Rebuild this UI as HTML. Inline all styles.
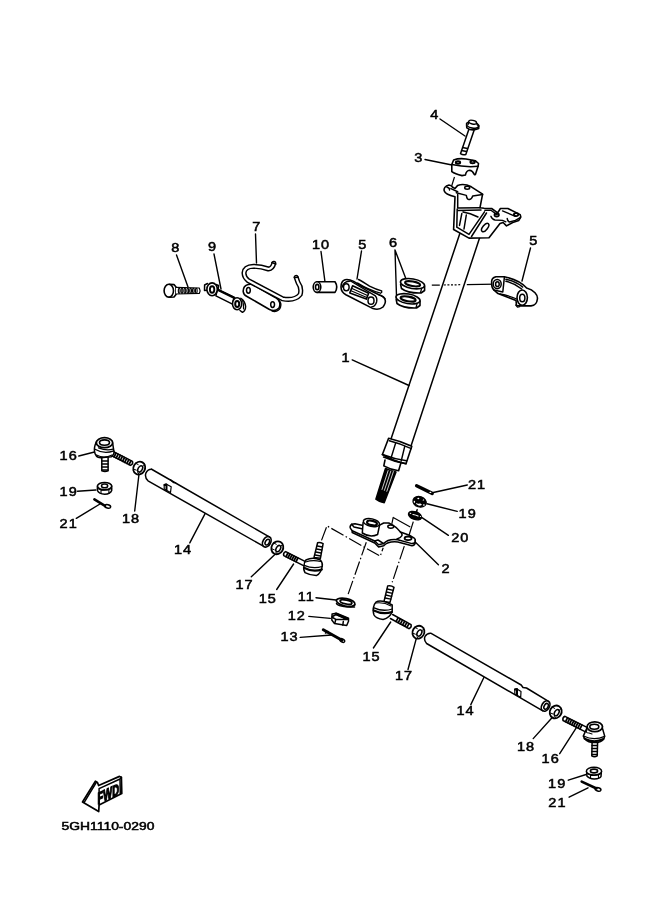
<!DOCTYPE html>
<html><head><meta charset="utf-8">
<style>
html,body{margin:0;padding:0;background:#fff;}
body{width:661px;height:913px;overflow:hidden;}
svg{display:block;will-change:transform;}
text{font-family:"Liberation Sans",sans-serif;}
</style></head>
<body>
<svg width="661" height="913" viewBox="0 0 661 913">
<rect width="661" height="913" fill="#fff"/>
<g fill="none" stroke="#000" stroke-width="1.5" stroke-linejoin="round" stroke-linecap="round">

<!-- LEADERS -->
<g id="leaders" stroke-width="1.4">
<path d="M440,119 L465,136"/>
<path d="M425,159.5 L452,165"/>
<path d="M255.5,234 L256.5,263"/>
<path d="M176.5,255 L188,287"/>
<path d="M214,254 L221,289"/>
<path d="M321,251.5 L325,282"/>
<path d="M361.5,251 L357,279"/>
<path d="M395,250 L406,279 M395,250 L396.6,299"/>
<path d="M530.5,248 L522,281"/>
<path d="M352.2,359.9 L409,385.5"/>
<path d="M78.8,456 L94.5,452"/>
<path d="M77.5,491.2 L95.8,490"/>
<path d="M76.3,518.3 L100,504"/>
<path d="M134.7,511 L139,474"/>
<path d="M189.8,542.9 L205.6,512.6"/>
<path d="M251.3,576.8 L274.6,554.7"/>
<path d="M276.7,589.5 L293.6,564"/>
<path d="M433.3,492.5 L467.3,485"/>
<path d="M427,503.8 L457.2,511.4"/>
<path d="M422,517.7 L448.4,535.3"/>
<path d="M415.2,541.9 L438.4,564.7"/>
<path d="M316,597.7 L336,600"/>
<path d="M308.8,616.4 L330.3,618.4"/>
<path d="M300.2,637.4 L331.8,635"/>
<path d="M373.4,648 L390.7,622"/>
<path d="M408,669.5 L416.6,637.4"/>
<path d="M470.8,704.6 L484,677.3"/>
<path d="M533.2,738.6 L552,717.8"/>
<path d="M559.7,753.7 L576.7,727.2"/>
<path d="M568.3,780.2 L586.1,774.5"/>
<path d="M569.1,797.2 L588,787.8"/>
</g>

<!-- dash-dot lines -->
<g stroke-width="1.2" stroke-dasharray="14,2.5,1.5,2.5" stroke-linecap="butt">
<path d="M431.8,285.2 L496,284.1" stroke-dasharray="8,4,2,1.6,2,1.6,2,1.6,2,1.6,2,6.6,40"/>
<path d="M454.5,177 L450.7,189" stroke-dasharray="none"/>
<path d="M366.3,542.2 L348.1,594.3"/>
<path d="M404.3,546.1 L392.2,582.3"/>
<path d="M321.5,540.4 L327,525.9 L380.2,556.2 L383.2,547.7"/>
<path d="M417,510.5 L415.6,514" stroke-dasharray="none"/>
<path d="M413.3,521.6 L408.7,536.3" stroke-dasharray="none"/>
<path d="M391.3,526.5 L393.2,517.4 L410.3,526.9" stroke-dasharray="none"/>
</g>
<!-- COLUMN -->
<path d="M460,233 L391,439"/>
<path d="M481.2,233 L411,446"/>
<!-- collar -->
<path d="M385,460 L383.8,465.9 Q391,470 398.6,470.7 L400.8,463.3" fill="#fff" stroke-width="1.6"/>
<path d="M388.6,438.3 Q400,441 411.8,446.2 L406,463.7 Q394,461.5 382.4,454.5 Z" fill="#fff" stroke-width="1.6"/>
<path d="M389.3,440.8 Q400,443.5 411.3,448.6" stroke-width="1.4"/>
<path d="M395.5,443.5 L390.9,458.5 M404.7,446.5 L401.2,461" stroke-width="1.4"/>
<path d="M382.4,454.5 Q394,459 406.5,460.8 M383.6,457 Q395,462 406,463.7" stroke-width="1.6"/>
<!-- spline -->
<path d="M385.5,468.5 L375.9,499.2 Q380,502.5 384.2,502.7 L396,472 Q391,471 385.5,468.5 Z" fill="#000" stroke-width="1.5"/>
<path d="M388.1,470.6 L382,489.5 M390.8,471.1 L384.4,490.4 M393.4,471.6 L386.8,491.3" stroke="#fff" stroke-width="0.8"/>
<!-- TOP BRACKET -->
<path d="M449,185 C445,185.5 443.5,189 444.3,191 C445,193.5 448,195 455,196.8 L453.6,229.5 L469,238.1 L489,237.7 L500,223.5 L503.1,222.5 L506.5,225.9 L512.7,222.5 L518.8,220.4 L520.8,217 L520.2,214.6 L507.9,208.5 L500.4,208.5 L497.7,212.9 L491.6,208.5 L484.1,208.2 L480,207.7 L482.6,194.1 L471.3,186.8 Q464,183 457.7,185.4 L455,188.5 L452.7,187.3 Q451,185 449,185 Z" fill="#fff" stroke-width="1.6"/>
<path d="M446.8,187 Q450,188 449.5,190" stroke-width="1.4"/>
<path d="M450.9,188.6 L457.7,191.8"/>
<path d="M456.3,192.7 L466.3,195.4 Q467,200 469.5,199.5 Q472,199 472.7,195.9 L482.6,194.5"/>
<path d="M457.7,194.5 L457.7,208.1 L480,207.7"/>
<path d="M457.2,209 L456.8,227.2 L469,234.4 L484.5,211.8"/>
<path d="M471.5,236.5 L486.5,213"/>
<path d="M458,210.5 L481,210 M461.8,213.6 L459.5,225.4 M466.3,215 L464,229 M463,212 Q470,213 478,217"/>
<ellipse cx="467.2" cy="187.7" rx="2.5" ry="1.5"/>
<ellipse cx="485.2" cy="227.5" rx="5" ry="2.4" transform="rotate(-52 485.2 227.5)"/>
<path d="M484.8,210.2 L490.9,210.2 L497,214.6 M490.9,216.3 Q492,219.5 495,220 L502.5,220.4 L505.9,221.8" stroke-width="1.4"/>
<path d="M502.5,210.9 L515.4,216.3 M507.2,218.4 Q507.5,221.5 509.5,222 L515.4,220.4 L520.2,217.7" stroke-width="1.4"/>
<ellipse cx="496.7" cy="215" rx="2.2" ry="1.5" stroke-width="1.8"/>
<ellipse cx="516.1" cy="214.6" rx="2.2" ry="1.5" stroke-width="1.8"/>

<!-- BOLT 4 -->
<path d="M468.8,129.5 L460.5,153.7 Q463,155.5 465.8,154.5 L474.1,130.3" fill="#fff" stroke-width="1.5"/>
<path d="M461.5,150.5 L466.5,151.5 M462.5,147.5 L467.5,148.5" stroke-width="1.3"/>
<path d="M466.6,125 L466.8,127.8 Q472,131.5 478.7,128.5 L478.7,125.5" fill="#fff" stroke-width="1.6"/>
<ellipse cx="472.6" cy="125" rx="6.2" ry="3" transform="rotate(12 472.6 125)" fill="#fff" stroke-width="1.6"/>
<path d="M468,124.5 L469,121.5 L476,122.3 L477.5,125.2" fill="#fff" stroke-width="1.4"/>
<ellipse cx="472.6" cy="122.2" rx="4" ry="1.8" transform="rotate(12 472.6 122.2)" fill="#fff" stroke-width="1.4"/>

<!-- CAP 3 -->
<path d="M453.6,160 Q459,158 466,159 L475.5,160.8 L478.5,163.5 L478.1,166.3 L475.4,174.4 Q474.1,175 474.1,174.1 Q472.5,170.5 469.5,170.3 Q466.5,170.5 465.4,175 L462,175.6 Q455,174 451.8,171.7 L451.8,164.5 Z" fill="#fff" stroke-width="1.6"/>
<path d="M451.8,164.5 Q465,167.5 478.1,166.3" stroke-width="1.5"/>
<ellipse cx="458" cy="162.5" rx="2.2" ry="1.3" stroke-width="1.9"/>
<ellipse cx="472.6" cy="161.9" rx="2.2" ry="1.3" stroke-width="1.9"/>

<!-- WASHERS 6 -->
<path d="M400.6,284.5 L401.5,288.5 Q408,293.5 421,293 L424.6,290.5 L424.6,286" fill="#fff" stroke-width="1.6"/>
<ellipse cx="412.5" cy="283.7" rx="12.2" ry="4.8" transform="rotate(10 412.5 283.7)" fill="#fff" stroke-width="1.6"/>
<ellipse cx="412.6" cy="283.8" rx="7.6" ry="2.3" transform="rotate(10 412.6 283.8)" stroke-width="2.1"/>
<path d="M420.5,292.5 L421.5,289" stroke-width="1.2"/>
<path d="M396.2,299.5 L397,303.5 Q403.5,308.5 416.5,308 L420,305.5 L420,301" fill="#fff" stroke-width="1.6"/>
<ellipse cx="408" cy="298.8" rx="12.2" ry="4.8" transform="rotate(10 408 298.8)" fill="#fff" stroke-width="1.6"/>
<ellipse cx="408.1" cy="298.9" rx="7.6" ry="2.3" transform="rotate(10 408.1 298.9)" stroke-width="2.1"/>
<path d="M416,307.5 L417,304" stroke-width="1.2"/>

<!-- CLAMP 5 mid -->
<path d="M345.1,279.7 Q341,281 341,287 Q341,292 345.9,294.8 L373,308.6 Q379,310.5 383,307 Q386,303 385.2,300 Q384.5,296.5 378.9,294.8 L361.6,286.2 L353.7,281.4 Q349,279 345.1,279.7 Z" fill="#fff" stroke-width="1.6"/>
<path d="M342.3,287 Q343,281.5 350.6,281 L375,295.6 Q377.5,298 376.6,302 Q375,307 371.8,306.6" stroke-width="1.4"/>
<path d="M358.5,279.5 Q362,281 369.5,286.2 Q376,289.5 381.7,290.9 L381.6,292.5 M357.7,283 Q368,289.5 380.5,293.2" stroke-width="1.4"/>
<path d="M378.9,294.8 Q384.5,297 385.2,299" stroke-width="1.3"/>
<ellipse cx="346.3" cy="287.3" rx="2.8" ry="3.5" stroke-width="1.5"/>
<ellipse cx="371" cy="300.7" rx="3" ry="3.6" stroke-width="1.5"/>
<path d="M352.6,285.8 L368.7,293.2 L366.3,299.1 L349.8,292.9 Z" fill="#fff" stroke-width="1.6"/>
<path d="M352,288.5 L367.5,295.5 M351,290.8 L366.8,297.5" stroke-width="1.2"/>

<!-- BUSHING 10 -->
<path d="M317,281.8 L335,281.8 Q338.5,287 335,292.4 L317,292.4" fill="#fff" stroke-width="1.6"/>
<ellipse cx="317" cy="287.1" rx="3.8" ry="5.3" fill="#fff" stroke-width="1.6"/>
<ellipse cx="317.2" cy="287.1" rx="1.7" ry="2.7" stroke-width="1.6"/>

<!-- CLAMP 5 right -->
<path d="M495.9,276.7 Q491,278 491.7,283 Q491.5,288 493.8,289.9 L498,293.6 L516,300.5 L516.5,305.5 L520.7,305.9 L531,305.9 C535,305.5 537,303 537.4,299 C538,295 534,290 526.6,288.1 Q520,280 504.4,276.7 Z" fill="#fff" stroke-width="1.6"/>
<ellipse cx="497.2" cy="284.1" rx="4" ry="4.6" stroke-width="1.5"/>
<ellipse cx="497.4" cy="284.2" rx="1.8" ry="2.4" stroke-width="1.5"/>
<path d="M504.4,277.2 L502.8,292 L493.8,289.9" stroke-width="1.5"/>
<path d="M505.9,279.3 Q516,281.5 522.7,287.1 M505.9,281.2 Q515,283.5 521.7,289" stroke-width="1.4"/>
<path d="M500,294 Q509,295.5 516.7,299" stroke-width="1.3"/>
<ellipse cx="522.2" cy="297.6" rx="5.2" ry="7.6" fill="#fff" stroke-width="1.6"/>
<ellipse cx="522.3" cy="298" rx="2.6" ry="3.8" stroke-width="1.5"/>
<path d="M515.8,305 L517.5,307.2 L519.7,306.6" stroke-width="1.3"/>

<!-- BOLT 8 -->
<path d="M169.5,284.2 L174,284.6 L176,287 L176,294.5 L174,297 L169.5,297.2" fill="#fff" stroke-width="1.6"/>
<ellipse cx="168.8" cy="290.7" rx="4.7" ry="6.4" fill="#fff" stroke-width="1.6"/>
<path d="M176,287.3 L199.3,288 Q200.8,290.7 199.3,293.4 L176,294" fill="#fff" stroke-width="1.2"/>
<ellipse cx="179.2" cy="290.7" rx="0.85" ry="2.5" stroke-width="1.15"/> <ellipse cx="182.0" cy="290.7" rx="0.85" ry="2.5" stroke-width="1.15"/> <ellipse cx="184.9" cy="290.7" rx="0.85" ry="2.5" stroke-width="1.15"/> <ellipse cx="187.8" cy="290.7" rx="0.85" ry="2.5" stroke-width="1.15"/> <ellipse cx="190.6" cy="290.7" rx="0.85" ry="2.5" stroke-width="1.15"/> <ellipse cx="193.4" cy="290.7" rx="0.85" ry="2.5" stroke-width="1.15"/> <ellipse cx="196.3" cy="290.7" rx="0.85" ry="2.5" stroke-width="1.15"/>


<!-- PART 9 -->
<path d="M217.4,289.3 L234,297.3 L232.5,304.1 L215.9,295.8 Z" fill="#fff" stroke-width="1.5"/>
<path d="M217.6,289.8 L234.5,298" stroke-width="2.3"/>
<path d="M207.5,283.5 L204.6,285 L204.5,290.5 L206.8,290.2 M216,284.5 L218.5,285.5 L218.3,288.8" fill="#fff" stroke-width="1.5"/>
<ellipse cx="212.1" cy="289.3" rx="5.2" ry="6.4" fill="#fff" stroke-width="1.6"/>
<ellipse cx="212.1" cy="289.5" rx="2.2" ry="3.3" stroke-width="1.9"/>
<path d="M240.8,298.4 Q245,301 245.6,306.5 Q245.5,311 242.5,312.3 L240,310.5" fill="#fff" stroke-width="1.5"/>
<path d="M242.5,300.5 Q244,304 243.5,309" stroke-width="1.1"/>
<ellipse cx="237.1" cy="303.7" rx="4.6" ry="6" fill="#fff" stroke-width="1.6"/>
<ellipse cx="237.2" cy="303.9" rx="2" ry="3" stroke-width="2"/>

<!-- PART 7 -->
<path d="M248.2,284.6 Q243,286 243.2,291.5 Q243.5,295 247,296.5 L269.5,309.5 Q275,312 279,308 Q281,304 278.5,300 Q276.5,298 274,296.8 L252.5,284.5 Q250.5,284 248.2,284.6 Z" fill="#fff" stroke-width="1.6"/>
<path d="M278.5,300 Q282,303 280.4,307.5 Q279,311 274.5,311.5 L272,311" stroke-width="1.4"/>
<ellipse cx="248.4" cy="290.3" rx="1.9" ry="2.9" stroke-width="1.5"/>
<ellipse cx="272.6" cy="304.6" rx="1.9" ry="2.9" stroke-width="1.5"/>
<path d="M273.8,263.3 Q272.5,268.5 268.5,269 Q261,266.3 253.5,266.3 Q244.5,266.5 244,273 Q244.2,277.5 248,280.5 L282.5,298.8 Q295,301 300.2,294.5 Q302,288 298,282.5 L296.2,277.3" stroke-width="5.1"/>
<path d="M273.8,263.3 Q272.5,268.5 268.5,269 Q261,266.3 253.5,266.3 Q244.5,266.5 244,273 Q244.2,277.5 248,280.5 L282.5,298.8 Q295,301 300.2,294.5 Q302,288 298,282.5 L296.2,277.3" stroke-width="2.2" stroke="#fff"/>
<path d="M271.8,262.5 L275.8,264.2 M294.3,277.5 L298.3,277.3" stroke-width="1.4"/>

<!-- PITMAN ARM 2 -->
<path d="M351.6,524.3 Q349.5,526 350.3,528.1 L352.2,530.7 L374.7,541 L378.6,544.8 L383.7,543.6 Q388,538.5 397.8,539.7 L412,543.6 Q416,543 415.2,540 Q415,538.5 414.6,538.4 L409.4,535.2 L400.4,532 Q397,528 395.3,526.9 L388.8,523 L383.7,523 L378.6,525.6 L363.1,525.6 L355,523.8 Z" fill="#fff"/>
<path d="M352.2,530.7 L352.2,532.5 L374.7,543 L378.6,547 L383.7,545.8 Q388,541 397.8,542 L412,545.8 Q416,545 415.2,540"/>
<path d="M351.6,524.3 L354,527 L363,529 M374.7,541 L378,540 L383.7,543.6"/>
<path d="M363.1,522.5 L362.3,533 Q370,538 377.6,534.5 L379.6,525" fill="#fff"/>
<ellipse cx="371.4" cy="522.6" rx="8.2" ry="3.8" transform="rotate(12 371.4 522.6)" fill="#fff"/>
<ellipse cx="372" cy="523" rx="5" ry="2.2" transform="rotate(12 372 523)" stroke-width="2.2"/>
<ellipse cx="390.8" cy="526.6" rx="3" ry="1.6"/>
<ellipse cx="408.1" cy="538.3" rx="3.5" ry="1.8" stroke-width="1.8"/>
<path d="M400.4,532 Q405,536 397,539"/>

<!-- 21R 19R 20 -->
<path d="M416.6,485.8 L432.2,493.4" stroke-width="3.4"/>
<ellipse cx="430.4" cy="492.4" rx="1" ry="0.6" fill="#fff" stroke="none"/>
<ellipse cx="419.6" cy="501.8" rx="6.8" ry="5.2" transform="rotate(18 419.6 501.8)" fill="#000" stroke-width="1.2"/>
<ellipse cx="418.3" cy="498.5" rx="1" ry="0.8" fill="#fff" stroke="none"/>
<path d="M422.5,500.6 L424.2,500.4 L423.5,499 Z" fill="#fff" stroke="none"/>
<ellipse cx="414.4" cy="501.8" rx="0.7" ry="1.1" fill="#fff" stroke="none"/>
<path d="M416.5,503.8 Q419,506.5 421.5,504.8 L420.5,503.8 Q418.5,504.3 416.5,503.8 Z" fill="#fff" stroke="#fff" stroke-width="0.6"/>
<ellipse cx="423.9" cy="505" rx="1" ry="0.7" fill="#fff" stroke="none"/>
<path d="M417.2,509.5 L415.8,514" stroke-width="1.3"/>
<ellipse cx="415" cy="515.6" rx="6.8" ry="3.8" transform="rotate(20 415 515.6)" fill="#000" stroke-width="1.4"/>
<path d="M413,514.5 Q416,515 418,516" stroke="#fff" stroke-width="1.2"/>
<ellipse cx="410.5" cy="513.3" rx="0.8" ry="0.6" fill="#fff" stroke="none"/>
<ellipse cx="420.5" cy="516.5" rx="0.7" ry="0.6" fill="#fff" stroke="none"/>
<!-- 11 12 13 -->
<ellipse cx="345.7" cy="602.3" rx="9.5" ry="3.8" transform="rotate(12 345.7 602.3)" fill="#fff" stroke-width="1.8"/>
<ellipse cx="346" cy="602" rx="6" ry="2" transform="rotate(12 346 602)" stroke-width="1.8"/>
<path d="M336.5,603.5 Q338,607 354.5,607"/>
<path d="M332.1,613.9 L336.4,613.3 L348.5,618.2 L348.5,621.2 L346.7,625.5 L334.5,623.6 L331.8,620 Z" fill="#fff"/>
<path d="M332.5,616.5 L336,614.5 L347.5,619.5 M331.8,617 L335.8,619.4 L347.5,619.6 M335.8,619.4 L334.8,623.3 M343.3,621.5 L342.8,625.2" />
<path d="M336,613.8 L347.5,618.8" stroke-width="2.4"/>
<path d="M323.3,629.7 L342,640.2" stroke-width="3"/>
<ellipse cx="342.3" cy="640.5" rx="2.6" ry="1.5" transform="rotate(28 342.3 640.5)" stroke-width="1.4"/>
<path d="M325.5,633 L328,631.5" stroke-width="1.5"/>

<!-- TRE 16 L -->

<path d="M111.5,455.7 L130.5,465.4 Q133.3,464.3 132.5,461.4 L113.5,451.7" fill="#fff"/>
<path d="M116.0,453.2 L114.1,456.9 M118.1,454.3 L116.2,458.0 M120.3,455.3 L118.4,459.1 M122.4,456.4 L120.5,460.2 M124.5,457.5 L122.6,461.3 M126.6,458.6 L124.7,462.4 M128.8,459.7 L126.9,463.4 M130.9,460.8 L129.0,464.5" stroke-width="1.75"/>
<path d="M101.8,457.5 L101.8,470.8 Q105,472 108.1,470.8 L108.1,457.5" fill="#fff"/>
<path d="M102,461 L108,461 M102,464 L108,464 M102,467 L108,467 M102,470 L108,470" stroke-width="1.3"/>
<path d="M96.3,441.8 C95,445 94,449 94.5,451.3 C95,455 97,457.5 100.5,457.8 L111.3,456.8 C113,455.5 114.5,453.5 114,451.8 L112.7,443.6" fill="#fff"/>
<path d="M95,449.2 Q104,454.5 113.8,450.8 M98.6,447.8 Q106,451 113,449.2" stroke-width="1.3"/>
<path d="M96.5,455 Q104,459 112,455" stroke-width="1.2"/>
<ellipse cx="104.5" cy="442.7" rx="8.2" ry="5" fill="#fff" stroke-width="1.8"/>
<ellipse cx="104.5" cy="442.6" rx="5" ry="2.7" stroke-width="1.6"/>

<!-- 19L 21L 18L -->
<path d="M97.4,486.1 L97.4,490.5 Q99,494 104.7,494.3 Q110.5,494 111.7,490.5 L111.7,486.1" fill="#fff"/>
<ellipse cx="104.6" cy="486.1" rx="7.1" ry="3.7" fill="#fff"/>
<ellipse cx="104.6" cy="485.9" rx="3.1" ry="1.8"/>
<path d="M101,489.5 L101,493.5 M108.9,489.5 L108.9,493.5 M97.5,488.5 Q104,492 111.6,488.5" stroke-width="1.1"/>
<path d="M94.4,499.4 L105,505.8" stroke-width="2.6"/>
<ellipse cx="107.7" cy="506.4" rx="3" ry="1.7" transform="rotate(15 107.7 506.4)" stroke-width="1.5"/>

<ellipse cx="139.2" cy="468.1" rx="5.8" ry="6.6" transform="rotate(30 139.2 468.1)" fill="#fff" stroke-width="1.8"/>
<ellipse cx="140.2" cy="468.9" rx="2.1" ry="3.4" transform="rotate(30 140.2 468.9)" stroke-width="1.5"/>
<path d="M135.7,463.3 L138.2,464.6 M133.7,469.1 L136.2,470.1 M137.7,472.6 L139.2,474.1 M143.2,466.1 L144.7,464.6" stroke-width="1"/>
<!-- LEFT TUBE -->
<path d="M151.2,469 L269.3,536.9 L262.9,545.9 L148,480.8 Q144.3,477 146,472.8 Q148,469 151.5,469.2 Z" fill="#fff"/>
<path d="M170.5,479.7 L173.5,482.5 L175.5,482.6" stroke-width="1.4"/>
<path d="M164.2,484.5 L164.2,489 L170.5,492.5 L171.2,486.8 L166,484 Z" fill="#fff" stroke-width="1.2"/>
<path d="M164.5,485 L166.5,484.5 L166.5,489.8" stroke-width="2"/>
<ellipse cx="266.8" cy="541.8" rx="3.8" ry="5.6" transform="rotate(30 266.8 541.8)" fill="#fff" stroke-width="1.7"/>
<ellipse cx="267.3" cy="542.1" rx="1.9" ry="3.1" transform="rotate(30 267.3 542.1)" stroke-width="1.5"/>

<ellipse cx="277.3" cy="547.8" rx="5.8" ry="6.6" transform="rotate(30 277.3 547.8)" fill="#fff" stroke-width="1.8"/>
<ellipse cx="278.3" cy="548.6" rx="2.1" ry="3.4" transform="rotate(30 278.3 548.6)" stroke-width="1.5"/>
<path d="M273.8,543.0 L276.3,544.3 M271.8,548.8 L274.3,549.8 M275.8,552.3 L277.3,553.8 M281.3,545.8 L282.8,544.3" stroke-width="1"/>
<!-- TRE 15 L -->
<path d="M305.5,561.6 L285.7,551.6 Q282.9,552.7 283.7,555.6 L303.5,565.6" fill="#fff"/>
<path d="M287.9,553.0 L286.1,556.6 M289.9,554.0 L288.1,557.6 M291.9,555.0 L290.1,558.6 M293.9,556.0 L292.1,559.6 M295.9,557.0 L294.1,560.6 M297.9,558.0 L296.1,561.6" stroke-width="1.75"/>
<path d="M317.6,542.7 L314,557.4 L320.4,558.3 L323.1,543.6 Q320,542 317.6,542.7 Z" fill="#fff"/>
<path d="M317.3,546 L322.5,547 M316.6,549 L321.8,550 M315.8,552 L321,553 M315.2,555 L320.5,556" stroke-width="1.3"/>
<path d="M305.9,560 Q313,556.5 320.4,560 Q323,563 322.2,566.3 Q321,573 316.7,575.4 Q310,575.5 305,572.7 Q303,569 304,566.3 Q304,562 305.9,560 Z" fill="#fff"/>
<path d="M305.5,562 Q313,559.5 320.5,561.5" stroke-width="1.1"/>
<path d="M304.2,565.3 Q313,569.3 322.2,566.5" stroke-width="1.3"/>
<path d="M304.5,568 Q313,572.5 321.8,569.5" stroke-width="2.2"/>

<!-- TRE 15 R -->
<path d="M390.4,618.5 L408.9,628.7 Q411.8,627.7 411.1,624.7 L392.6,614.5" fill="#fff"/>
<path d="M398.1,617.8 L396.1,621.4 M400.3,619.0 L398.2,622.6 M402.4,620.2 L400.4,623.8 M404.6,621.4 L402.6,625.0 M406.8,622.6 L404.7,626.2 M408.9,623.8 L406.9,627.4" stroke-width="1.75"/>
<path d="M387.7,585.9 L384,601.5 L390,602.4 L394,587.3 Q391,585 387.7,585.9 Z" fill="#fff"/>
<path d="M387.3,589 L393.2,590.3 M386.6,592 L392.4,593.3 M385.8,595 L391.6,596.3 M385.1,598 L390.8,599.2" stroke-width="1.3"/>
<path d="M375.9,602.2 Q381,599 392.2,605 L392.2,611.3 Q390,618 383.1,619.5 Q376,618.5 374,615 Q372.5,610 373.6,607 Q374,604 375.9,602.2 Z" fill="#fff"/>
<path d="M374,607.8 Q383,612 392.2,609" stroke-width="1.3"/>
<path d="M373.8,610.5 Q383,615 392,612" stroke-width="2.2"/>
<path d="M376,603 Q384,602 391,606" stroke-width="1.1"/>

<ellipse cx="418.4" cy="632.2" rx="5.8" ry="6.6" transform="rotate(30 418.4 632.2)" fill="#fff" stroke-width="1.8"/>
<ellipse cx="419.4" cy="633.0" rx="2.1" ry="3.4" transform="rotate(30 419.4 633.0)" stroke-width="1.5"/>
<path d="M414.9,627.4 L417.4,628.7 M412.9,633.2 L415.4,634.2 M416.9,636.7 L418.4,638.2 M422.4,630.2 L423.9,628.7" stroke-width="1"/>
<!-- RIGHT TUBE -->
<path d="M430.7,633.2 L521.2,685 L523,687.5 L526.5,688 L547.7,700.9 L542.4,710.7 L426.6,643.5 Q423.5,640 425,636.5 Q427,633 430.7,633.2 Z" fill="#fff"/>
<path d="M514.8,689.2 L514.8,694 L520.7,697.3 L521,691.5 L517,689 Z" fill="#fff" stroke-width="1.2"/>
<path d="M515,689.5 L517,689 L517,695" stroke-width="2"/>
<ellipse cx="545.6" cy="706" rx="3.8" ry="5.6" transform="rotate(30 545.6 706)" fill="#fff" stroke-width="1.7"/>
<ellipse cx="546.1" cy="706.3" rx="1.9" ry="3.1" transform="rotate(30 546.1 706.3)" stroke-width="1.5"/>

<ellipse cx="555.7" cy="711.9" rx="5.8" ry="6.6" transform="rotate(30 555.7 711.9)" fill="#fff" stroke-width="1.8"/>
<ellipse cx="556.7" cy="712.7" rx="2.1" ry="3.4" transform="rotate(30 556.7 712.7)" stroke-width="1.5"/>
<path d="M552.2,707.1 L554.7,708.4 M550.2,712.9 L552.7,713.9 M554.2,716.4 L555.7,717.9 M559.7,709.9 L561.2,708.4" stroke-width="1"/>
<!-- TRE 16 R -->
<path d="M587.0,727.4 L565.0,716.3 Q562.2,717.5 563.0,720.5 L585.0,731.6" fill="#fff"/>
<path d="M567.5,717.8 L565.6,721.6 M569.5,718.9 L567.7,722.6 M571.6,719.9 L569.7,723.7 M573.7,721.0 L571.8,724.7 M575.7,722.0 L573.8,725.7 M577.8,723.0 L575.9,726.8 M579.8,724.1 L578.0,727.8 M581.9,725.1 L580.0,728.9" stroke-width="1.75"/>
<path d="M592.1,742.2 L591.8,755.9 Q594.5,757.5 597.2,755.9 L597.6,742.2" fill="#fff"/>
<path d="M592,745.5 L597.5,745.5 M592,748.5 L597.5,748.5 M592,751.5 L597.5,751.5 M592,754.5 L597.5,754.5" stroke-width="1.3"/>
<path d="M587.2,727.4 L583.3,736.1 Q585,741.5 592.1,742.6 L597.6,742.6 Q604,741 604.7,736.1 L602.5,728.5" fill="#fff"/>
<path d="M583.5,736 Q594,741 604.6,736.3" stroke-width="1.3"/>
<path d="M584.5,738.6 Q594,743.5 603.5,739" stroke-width="2"/>
<path d="M587,730 Q585,733 589,733 L592,734" stroke-width="1.1"/>
<ellipse cx="594.8" cy="726.8" rx="7.7" ry="4.9" fill="#fff" stroke-width="1.8"/>
<ellipse cx="594.3" cy="726.8" rx="4.5" ry="2.5" stroke-width="1.6"/>

<!-- 19RB 21RB -->
<path d="M586.6,771.2 L586.9,776 Q589,778.8 594.3,779 Q600,778.8 601,776.5 L601.4,771.2" fill="#fff"/>
<ellipse cx="594" cy="771.2" rx="7.6" ry="3.9" fill="#fff"/>
<ellipse cx="594" cy="771" rx="3.6" ry="1.9" stroke-width="1.6"/>
<path d="M590.5,774.5 L590.5,778.2 M598.5,774.5 L598.5,778.2 M586.8,773.5 Q594,777.5 601.3,773.5" stroke-width="1.1"/>
<path d="M581.7,781.6 L596.5,788.5" stroke-width="2.6"/>
<ellipse cx="598" cy="789.3" rx="3" ry="1.7" transform="rotate(15 598 789.3)" stroke-width="1.5"/>

<!-- FWD ARROW -->
<path d="M82.5,802 L95.4,781.2 L97.5,782.5 L98.6,785.5 L119.5,776.4 L121.4,777.3 L121.8,793.6 L99.1,805 L98.7,811.6 Z" fill="#fff" stroke-width="1.7"/>
<path d="M84.2,802.4 L96.2,782.5 M99.1,788.6 L120,779 L121.4,777.3 M120,779 L120.3,794 M99.1,788.6 L99.1,805" stroke-width="1.5"/>
</g>

<!-- TEXT -->
<g fill="#000" stroke="#000" stroke-width="0.5" style="font-family:'Liberation Sans',sans-serif;font-size:12.3px">
<text transform="translate(430.3,119.1) scale(1.18,1)">4</text>
<text transform="translate(414.2,161.5) scale(1.18,1)">3</text>
<text transform="translate(252.3,230.6) scale(1.18,1)">7</text>
<text transform="translate(171.3,251.8) scale(1.18,1)">8</text>
<text transform="translate(208.1,251.2) scale(1.18,1)">9</text>
<text transform="translate(312.0,248.9) scale(1.18,1)" letter-spacing="0.9">10</text>
<text transform="translate(358.3,248.5) scale(1.18,1)">5</text>
<text transform="translate(389.0,247.4) scale(1.18,1)">6</text>
<text transform="translate(529.3,245.0) scale(1.18,1)">5</text>
<text transform="translate(341.6,361.7) scale(1.18,1)">1</text>
<text transform="translate(59.6,460.2) scale(1.18,1)" letter-spacing="0.9">16</text>
<text transform="translate(59.6,496.2) scale(1.18,1)" letter-spacing="0.9">19</text>
<text transform="translate(59.6,528.2) scale(1.18,1)" letter-spacing="0.9">21</text>
<text transform="translate(121.9,522.7) scale(1.18,1)" letter-spacing="0.9">18</text>
<text transform="translate(174.0,553.7) scale(1.18,1)" letter-spacing="0.9">14</text>
<text transform="translate(235.4,588.8) scale(1.18,1)" letter-spacing="0.9">17</text>
<text transform="translate(258.7,603.2) scale(1.18,1)" letter-spacing="0.9">15</text>
<text transform="translate(468.0,488.9) scale(1.18,1)" letter-spacing="0.9">21</text>
<text transform="translate(458.6,518.1) scale(1.18,1)" letter-spacing="0.9">19</text>
<text transform="translate(451.2,541.8) scale(1.18,1)" letter-spacing="0.9">20</text>
<text transform="translate(441.4,572.5) scale(1.18,1)">2</text>
<text transform="translate(297.7,601.2) scale(1.18,1)" letter-spacing="0.9">11</text>
<text transform="translate(287.7,620.3) scale(1.18,1)" letter-spacing="0.9">12</text>
<text transform="translate(280.5,641.0) scale(1.18,1)" letter-spacing="0.9">13</text>
<text transform="translate(362.4,660.5) scale(1.18,1)" letter-spacing="0.9">15</text>
<text transform="translate(395.0,680.2) scale(1.18,1)" letter-spacing="0.9">17</text>
<text transform="translate(456.5,715.3) scale(1.18,1)" letter-spacing="0.9">14</text>
<text transform="translate(517.0,751.2) scale(1.18,1)" letter-spacing="0.9">18</text>
<text transform="translate(541.6,763.4) scale(1.18,1)" letter-spacing="0.9">16</text>
<text transform="translate(548.1,788.0) scale(1.18,1)" letter-spacing="0.9">19</text>
<text transform="translate(548.3,806.9) scale(1.18,1)" letter-spacing="0.9">21</text>
<text transform="translate(61.5,829.8) scale(1.24,1)" style="font-size:11.2px">5GH1110-0290</text>
<text transform="translate(97.6,804.2) skewY(-24.5)" stroke-width="1.3" style="font-size:16px;font-weight:bold" textLength="21.4" lengthAdjust="spacingAndGlyphs">FWD</text>
</g>
</svg>
</body></html>
